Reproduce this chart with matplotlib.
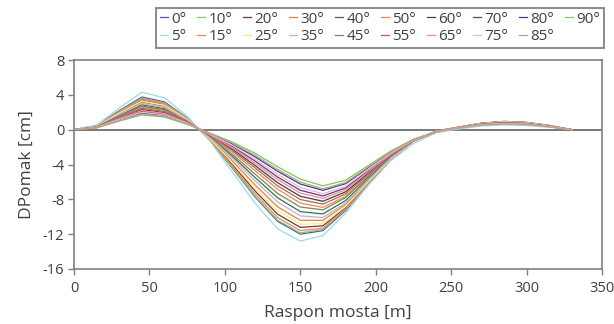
import matplotlib
matplotlib.use("Agg")
import matplotlib.pyplot as plt

# ---------------- data ----------------
x_m = [0, 15, 30, 45, 60, 75, 90, 105, 120, 135, 150, 165, 180,
       195, 210, 225, 240, 255, 270, 285, 300, 315, 330]

angles = [0, 5, 10, 15, 20, 25, 30, 35, 40, 45, 50, 55, 60, 65, 70, 75, 80, 85, 90]

d0 = [0, 0.45, 2.18, 3.75, 3.19, 1.35, -1.17, -4.42, -7.73, -10.53, -12.00, -11.60, -9.29,
      -6.25, -3.41, -1.30, -0.16, 0.29, 0.74, 0.95, 0.84, 0.48, 0]
d5 = [0, 0.52, 2.49, 4.30, 3.66, 1.55, -1.28, -4.86, -8.45, -11.39, -12.80, -12.16, -9.60,
      -6.40, -3.55, -1.60, -0.35, 0.08, 0.43, 0.55, 0.48, 0.28, 0]
d10 = [0, 0.43, 2.09, 3.60, 3.06, 1.30, -1.15, -4.37, -7.63, -10.40, -11.86, -11.46, -9.18,
       -6.17, -3.37, -1.28, -0.16, 0.29, 0.74, 0.95, 0.84, 0.48, 0]
d15 = [0, 0.42, 2.03, 3.50, 2.98, 1.26, -1.11, -4.20, -7.36, -10.10, -11.59, -11.30, -9.12,
       -6.15, -3.39, -1.31, -0.18, 0.28, 0.73, 0.93, 0.82, 0.47, 0]
d20 = [0, 0.41, 1.97, 3.40, 2.89, 1.22, -1.06, -4.00, -7.04, -9.71, -11.22, -11.04, -8.97,
       -6.07, -3.36, -1.31, -0.18, 0.28, 0.72, 0.92, 0.81, 0.46, 0]
d25 = [0, 0.40, 1.91, 3.30, 2.81, 1.19, -1.01, -3.81, -6.72, -9.33, -10.86, -10.79, -8.83,
       -5.99, -3.34, -1.32, -0.20, 0.27, 0.70, 0.90, 0.79, 0.45, 0]
d30 = [0, 0.38, 1.83, 3.15, 2.68, 1.13, -0.95, -3.59, -6.35, -8.87, -10.41, -10.42, -8.59,
       -5.85, -3.27, -1.31, -0.21, 0.26, 0.69, 0.88, 0.77, 0.44, 0]
d35 = [0, 0.36, 1.74, 3.00, 2.55, 1.08, -0.87, -3.29, -5.87, -8.30, -9.90, -10.09, -8.42,
       -5.78, -3.27, -1.33, -0.23, 0.26, 0.67, 0.86, 0.76, 0.43, 0]
d40 = [0, 0.34, 1.65, 2.85, 2.42, 1.03, -0.82, -3.06, -5.49, -7.83, -9.41, -9.68, -8.14,
       -5.60, -3.18, -1.31, -0.24, 0.25, 0.66, 0.84, 0.74, 0.42, 0]
d45 = [0, 0.32, 1.57, 2.70, 2.30, 0.97, -0.76, -2.84, -5.10, -7.32, -8.88, -9.21, -7.80,
       -5.39, -3.07, -1.28, -0.24, 0.25, 0.64, 0.82, 0.72, 0.41, 0]
d50 = [0, 0.31, 1.51, 2.60, 2.21, 0.94, -0.69, -2.58, -4.70, -6.84, -8.44, -8.92, -7.64,
       -5.31, -3.06, -1.29, -0.25, 0.24, 0.62, 0.80, 0.70, 0.40, 0]
d55 = [0, 0.29, 1.42, 2.45, 2.08, 0.88, -0.64, -2.40, -4.38, -6.45, -8.02, -8.55, -7.38,
       -5.14, -2.98, -1.27, -0.26, 0.23, 0.61, 0.78, 0.69, 0.39, 0]
d60 = [0, 0.28, 1.33, 2.30, 1.96, 0.83, -0.60, -2.24, -4.11, -6.09, -7.65, -8.22, -7.14,
       -4.99, -2.90, -1.24, -0.26, 0.23, 0.59, 0.76, 0.67, 0.38, 0]
d65 = [0, 0.26, 1.28, 2.20, 1.87, 0.79, -0.56, -2.08, -3.84, -5.74, -7.28, -7.90, -6.90,
       -4.84, -2.82, -1.22, -0.26, 0.22, 0.58, 0.74, 0.65, 0.37, 0]
d70 = [0, 0.25, 1.22, 2.10, 1.79, 0.76, -0.52, -1.94, -3.60, -5.44, -6.96, -7.62, -6.70,
       -4.71, -2.76, -1.20, -0.26, 0.22, 0.56, 0.72, 0.63, 0.36, 0]
d75 = [0, 0.24, 1.16, 2.00, 1.70, 0.72, -0.49, -1.81, -3.37, -5.14, -6.65, -7.35, -6.50,
       -4.58, -2.69, -1.18, -0.27, 0.21, 0.55, 0.70, 0.62, 0.35, 0]
d80 = [0, 0.23, 1.10, 1.90, 1.62, 0.68, -0.45, -1.65, -3.11, -4.78, -6.24, -6.97, -6.20,
       -4.38, -2.58, -1.14, -0.26, 0.20, 0.53, 0.68, 0.60, 0.34, 0]
d85 = [0, 0.22, 1.04, 1.80, 1.53, 0.65, -0.42, -1.55, -2.94, -4.57, -6.02, -6.79, -6.07,
       -4.30, -2.55, -1.14, -0.27, 0.20, 0.51, 0.66, 0.58, 0.33, 0]
d90 = [0, 0.20, 0.99, 1.70, 1.45, 0.61, -0.39, -1.42, -2.71, -4.26, -5.68, -6.45, -5.81,
       -4.13, -2.45, -1.10, -0.26, 0.20, 0.51, 0.65, 0.57, 0.33, 0]

series = [d0, d5, d10, d15, d20, d25, d30, d35, d40, d45,
          d50, d55, d60, d65, d70, d75, d80, d85, d90]

colors = ['#4a5bab', '#9ad9e8', '#7fc85a', '#f4806a', '#6e3b3b', '#f2ee8a', '#f07d3c',
          '#b4b4dc', '#3d7040', '#7a8560', '#ee8a50', '#b46455', '#404040', '#f5889c',
          '#6e3a6e', '#d8bde0', '#3a3f86', '#c0a080', '#78c860']

yticks = [-16, -12, -8, -4, 0, 4, 8]
xticks = [0, 50, 100, 150, 200, 250, 300, 350]

# ---------------- figure ----------------
plt.rcParams['font.family'] = ['Open Sans', 'DejaVu Sans']
plt.rcParams['axes.unicode_minus'] = False
txt = '#404040'

fig = plt.figure(figsize=(6.14, 3.24), dpi=100)
ax = fig.add_axes([74 / 614, 1 - 269 / 324, 528 / 614, 209 / 324])

ax.axhline(0, color='#555555', lw=1.1, zorder=1)

# draw like the spreadsheet did: 0,10,..90 then 5,15,..85
draw_order = list(range(0, 19, 2)) + list(range(1, 19, 2))
handles = {}
for i in draw_order:
    ln, = ax.plot(x_m, series[i], color=colors[i], lw=0.9, zorder=2,
                  label=f"{angles[i]}°")
    handles[i] = ln

ax.set_xlim(0, 350)
ax.set_ylim(-16, 8)
ax.set_xticks(xticks)
ax.set_yticks(yticks)
ax.tick_params(direction='out', length=4, width=1, color='#808080',
               labelsize=10.5, labelcolor=txt, pad=3)
ax.tick_params(axis='x', pad=5)
for s in ax.spines.values():
    s.set_color('#808080')
    s.set_linewidth(1.2)

ax.set_xlabel("Raspon mosta [m]", fontsize=12.5, color=txt, labelpad=6)
ax.set_ylabel("DPomak [cm]", fontsize=12.5, color=txt, labelpad=6)

# legend: matplotlib fills columns, so angle order gives rows 0..90 / 5..85
leg = fig.legend([handles[i] for i in range(19)], [f"{a}°" for a in angles],
                 ncol=10, loc='upper right', bbox_to_anchor=(604 / 614, 1 - 8 / 324),
                 fontsize=11, handlelength=0.55, handletextpad=0.2, columnspacing=0.7,
                 labelspacing=0.15, borderpad=0.25, fancybox=False, framealpha=1,
                 edgecolor='#808080', borderaxespad=0)
leg.get_frame().set_linewidth(1.3)
for t in leg.get_texts():
    t.set_color(txt)

fig.savefig("out.png", dpi=100)
